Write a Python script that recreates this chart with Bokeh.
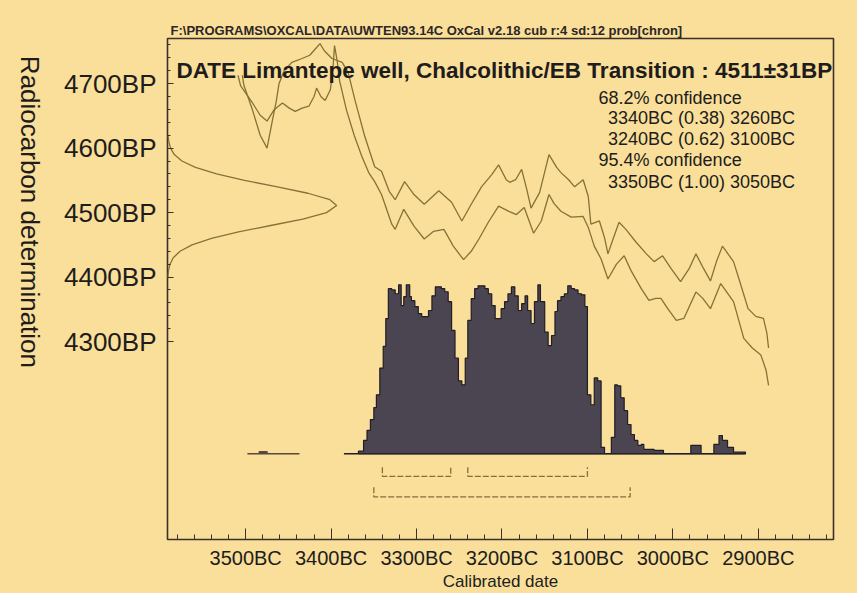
import math
from bokeh.plotting import figure
from bokeh.models import Range1d, FixedTicker, Label
from bokeh.layouts import row
from bokeh.core.properties import value
from bokeh.embed import file_html
from bokeh.resources import INLINE

# ---------------- data (calendar years BC, radiocarbon years BP) ----------------
x_tick_bc = [3500, 3400, 3300, 3200, 3100, 3000, 2900]
x_tick_labels = ["3500BC", "3400BC", "3300BC", "3200BC", "3100BC", "3000BC", "2900BC"]
y_tick_bp = [4300, 4400, 4500, 4600, 4700]
y_tick_labels = ["4300BP", "4400BP", "4500BP", "4600BP", "4700BP"]

# calibration curve, first envelope line
curve_a_bc = [3509, 3506, 3492, 3483, 3475, 3467, 3457, 3449, 3442, 3434, 3426, 3420, 3417, 3412,
              3407, 3401, 3398, 3396, 3393, 3390, 3382, 3373, 3364, 3356, 3349, 3341, 3329, 3325,
              3315, 3303, 3291, 3280, 3268, 3257, 3245, 3236, 3227, 3216, 3204, 3192, 3183, 3174,
              3163, 3154, 3145, 3139, 3131, 3119, 3105, 3099, 3092, 3084, 3076, 3066, 3057, 3049,
              3037, 3028, 3020, 3014, 3006, 2996, 2987, 2973, 2965, 2956, 2944, 2929, 2917, 2907,
              2897, 2891, 2888]
curve_a_bp = [4713, 4697, 4670, 4651, 4642, 4659, 4670, 4662, 4657, 4662, 4665, 4680, 4693, 4680,
              4674, 4690, 4720, 4759, 4736, 4704, 4659, 4620, 4587, 4562, 4548, 4528, 4482, 4474,
              4505, 4479, 4459, 4471, 4474, 4448, 4427, 4440, 4459, 4485, 4510, 4502, 4497, 4508,
              4468, 4487, 4528, 4514, 4502, 4493, 4494, 4477, 4448, 4428, 4397, 4420, 4433, 4410,
              4382, 4364, 4367, 4367, 4351, 4333, 4336, 4377, 4367, 4351, 4390, 4362, 4305, 4290,
              4279, 4256, 4232]

# calibration curve, second envelope line
curve_b_bc = [3504, 3502, 3492, 3483, 3475, 3469, 3464, 3461, 3455, 3446, 3434, 3425, 3417, 3413,
              3408, 3399, 3387, 3380, 3372, 3361, 3349, 3341, 3332, 3325, 3314, 3303, 3291, 3274,
              3259, 3247, 3236, 3224, 3212, 3204, 3195, 3191, 3184, 3177, 3171, 3166, 3156, 3145,
              3136, 3131, 3122, 3115, 3105, 3099, 3096, 3086, 3080, 3076, 3070, 3063, 3055, 3043,
              3031, 3022, 3012, 3002, 2991, 2981, 2973, 2964, 2956, 2949, 2942, 2929, 2921, 2912,
              2903, 2894, 2890, 2888]
curve_b_bp = [4713, 4697, 4659, 4620, 4600, 4641, 4674, 4700, 4720, 4733, 4739, 4744, 4756, 4762,
              4751, 4739, 4733, 4717, 4674, 4620, 4571, 4564, 4533, 4520, 4548, 4528, 4513, 4534,
              4516, 4487, 4513, 4540, 4559, 4574, 4551, 4547, 4551, 4567, 4536, 4507, 4531, 4590,
              4570, 4562, 4551, 4540, 4551, 4525, 4482, 4487, 4461, 4436, 4459, 4485, 4474, 4454,
              4436, 4424, 4433, 4413, 4393, 4413, 4436, 4413, 4394, 4424, 4448, 4424, 4390, 4351,
              4339, 4336, 4313, 4290]

meas_bp = [4400, 4410, 4420, 4430, 4440, 4450, 4460, 4470, 4480, 4490, 4500, 4511, 4520,
           4530, 4540, 4550, 4560, 4570, 4580, 4590, 4600, 4610, 4620]
meas_rel = [0.002, 0.006, 0.015, 0.034, 0.074, 0.145, 0.26, 0.42, 0.61, 0.80, 0.94, 1.0, 0.96,
            0.83, 0.65, 0.455, 0.29, 0.165, 0.085, 0.04, 0.018, 0.008, 0.003]

# calibrated probability distribution (bin start, BC) and relative probability
hist_start_bc = [3368, 3362, 3358, 3354, 3350, 3347, 3343, 3339, 3336, 3333, 3329, 3325, 3321,
                 3318, 3315, 3312, 3308, 3306, 3302, 3298, 3294, 3286, 3282, 3278, 3271, 3267,
                 3263, 3259, 3255, 3251, 3247, 3243, 3240, 3236, 3232, 3228, 3220, 3216, 3212,
                 3208, 3201, 3197, 3193, 3189, 3185, 3181, 3177, 3173, 3170, 3166, 3162, 3158,
                 3155, 3150, 3146, 3142, 3138, 3135, 3131, 3127, 3123, 3119, 3115, 3111, 3107,
                 3103, 3100, 3096, 3092, 3088, 3084, 3080, 3072, 3068, 3065, 3061, 3057, 3053,
                 3049, 3045, 3041, 3037, 3034, 3022, 3011, 2979, 2967, 2952, 2946, 2942, 2936,
                 2929]
hist_prob = [0.015, 0.079, 0.138, 0.202, 0.273, 0.349, 0.507, 0.636, 0.80, 0.977, 0.97, 0.947,
             1.0, 0.877, 0.93, 1.0, 0.93, 0.906, 0.871, 0.83, 0.812, 0.848, 0.935, 0.988, 0.977,
             0.959, 0.90, 0.73, 0.566, 0.431, 0.408, 0.566, 0.789, 0.918, 0.977, 0.994, 0.977,
             0.947, 0.877, 0.80, 0.859, 0.90, 0.947, 0.988, 0.935, 0.848, 0.889, 0.935, 0.848,
             0.771, 0.90, 1.0, 0.90, 0.72, 0.64, 0.70, 0.842, 0.906, 0.93, 0.947, 0.994, 0.977,
             0.97, 0.947, 0.941, 0.871, 0.349, 0.29, 0.449, 0.431, 0.038, 0.0, 0.097, 0.408,
             0.402, 0.331, 0.255, 0.173, 0.114, 0.079, 0.05, 0.056, 0.026, 0.02, 0.0, 0.05, 0.0,
             0.056, 0.108, 0.079, 0.038, 0.009]
hist_end_bc = 2915
hist_base_from_bc = 3385

# small isolated probability further back
minor_start_bc = [3498, 3484, 3475]
minor_prob = [0.0, 0.012, 0.0]
minor_end_bc = 3437

# confidence ranges (from, to BC)
range68_from = [3340, 3240]
range68_to = [3260, 3100]
range95_from = [3350]
range95_to = [3050]

title_text = "DATE Limantepe well, Chalcolithic/EB Transition : 4511\u00b131BP"
legend_lines = ["68.2% confidence", "3340BC (0.38) 3260BC", "3240BC (0.62) 3100BC",
                "95.4% confidence", "3350BC (1.00) 3050BC"]
header_text = r"F:\PROGRAMS\OXCAL\DATA\UWTEN93.14C  OxCal v2.18 cub r:4 sd:12 prob[chron]"
x_axis_title = "Calibrated date"
y_axis_title = "Radiocarbon determination"

# ---------------- styling ----------------
PAPER = "#f9df99"
INK = "#211c1c"
FRAME = "#3b302c"
CURVE = "#857238"
HIST_FILL = "#4a4550"
HIST_LINE = "#221d26"
BRACKET = "#8a6d3b"
FONT = "Liberation Sans"

TOTAL_W, TOTAL_H = 857, 593
LAB_W = 60

X0, X1 = -3591.5, -2812.0
Y0, Y1 = 3993.0, 4770.0

# narrow strip holding the vertical axis title (reads top to bottom);
# its frame is aligned with the main frame, so it shares the radiocarbon range
lab = figure(width=LAB_W, height=TOTAL_H, output_backend="svg", toolbar_location=None,
             x_range=Range1d(0, LAB_W), y_range=Range1d(Y0, Y1),
             x_axis_location=None, y_axis_location=None,
             min_border_left=0, min_border_right=0, min_border_top=38, min_border_bottom=50,
             styles={"background-color": PAPER})
lab.background_fill_color = None
lab.border_fill_color = None
lab.outline_line_color = None
lab.grid.grid_line_color = None
lab.text(x=[29], y=[4501], text=[y_axis_title], angle=-math.pi / 2,
         text_align="center", text_baseline="middle", text_font=value(FONT),
         text_font_size=value("26px"), text_color=INK)

p = figure(width=TOTAL_W - LAB_W, height=TOTAL_H, output_backend="svg", toolbar_location=None,
           x_range=Range1d(X0, X1), y_range=Range1d(Y0, Y1),
           min_border_left=165 - LAB_W, min_border_right=24, min_border_top=38,
           min_border_bottom=50, title=header_text)
p.background_fill_color = PAPER
p.border_fill_color = PAPER
p.outline_line_color = FRAME
p.outline_line_width = 1.6
p.grid.grid_line_color = None

p.title.text_font = FONT
p.title.text_font_size = "13px"
p.title.text_font_style = "bold"
p.title.text_color = "#2e2626"
p.title.align = "left"
p.title.offset = 3
p.title.standoff = 1

# x axis
x_ticks = [-v for v in x_tick_bc]
x_minor = [-v for v in range(3580, 2810, -20)]
p.xaxis.ticker = FixedTicker(ticks=x_ticks, minor_ticks=x_minor)
p.xaxis.major_label_overrides = {t: s for t, s in zip(x_ticks, x_tick_labels)}
p.xaxis.axis_label = x_axis_title
y_minor = list(range(4300, 4770, 20))
p.yaxis.ticker = FixedTicker(ticks=y_tick_bp, minor_ticks=y_minor)
p.yaxis.major_label_overrides = {t: s for t, s in zip(y_tick_bp, y_tick_labels)}

for ax in (p.xaxis[0], p.yaxis[0]):
    ax.axis_line_color = None
    ax.major_tick_line_color = FRAME
    ax.minor_tick_line_color = FRAME
    ax.major_tick_out = 0
    ax.minor_tick_out = 0
    ax.major_label_text_font = FONT
    ax.major_label_text_color = INK
    ax.axis_label_text_font = FONT
    ax.axis_label_text_color = INK
    ax.axis_label_text_font_style = "normal"

p.xaxis.major_tick_in = 11
p.xaxis.minor_tick_in = 5
p.xaxis.major_label_text_font_size = "20px"
p.xaxis.major_label_standoff = 7
p.xaxis.axis_label_text_font_size = "17px"
p.xaxis.axis_label_standoff = 0

p.yaxis.major_tick_in = 6
p.yaxis.minor_tick_in = 3
p.yaxis.major_label_text_font_size = "26px"
p.yaxis.major_label_standoff = 11

# calibration curve envelope
p.line([-v for v in curve_a_bc], curve_a_bp, line_color=CURVE, line_width=1.3)
p.line([-v for v in curve_b_bc], curve_b_bp, line_color=CURVE, line_width=1.3)

# measurement distribution on the radiocarbon axis
MEAS_WIDTH = 198.0
p.line([X0 + MEAS_WIDTH * r for r in meas_rel], meas_bp, line_color=CURVE, line_width=1.3)

# calibrated distribution histogram
BASE = 4126.0
HSCALE = 262.0


def step_outline(starts, probs, end):
    xs, ys = [-starts[0]], [BASE]
    for i, h in enumerate(probs):
        a = -starts[i]
        b = -(starts[i + 1] if i + 1 < len(starts) else end)
        y = BASE + h * HSCALE
        xs += [a, b]
        ys += [y, y]
    xs.append(-end)
    ys.append(BASE)
    return xs, ys


hx, hy = step_outline(hist_start_bc, hist_prob, hist_end_bc)
p.line([-hist_base_from_bc, -hist_end_bc], [BASE, BASE], line_color=HIST_LINE, line_width=1.6)
p.patch(hx, hy, fill_color=HIST_FILL, line_color=HIST_LINE, line_width=1.2)
mx, my = step_outline(minor_start_bc, minor_prob, minor_end_bc)
p.patch(mx, my, fill_color=HIST_FILL, line_color="#5a4a3a", line_width=1.6)


# range brackets
def brackets(froms, tos, ybot, ytop):
    xs, ys = [], []
    for a, b in zip(froms, tos):
        xs.append([-a, -a, -b, -b])
        ys.append([ytop, ybot, ybot, ytop])
    return xs, ys


bx, by = brackets(range68_from, range68_to, 4091, 4105)
p.multi_line(bx, by, line_color=BRACKET, line_width=1.3, line_dash="6 2")
bx, by = brackets(range95_from, range95_to, 4059, 4074)
p.multi_line(bx, by, line_color=BRACKET, line_width=1.3, line_dash="6 2")

# texts inside the frame
p.add_layout(Label(x=-3581, y=4721, text=title_text, text_font=FONT, text_font_size="22.5px",
                   text_font_style="bold", text_color=INK, text_baseline="middle"))
leg_x = [-3087, -3076, -3076, -3087, -3076]
leg_y = [4677, 4646, 4614, 4582, 4548]
for tx, ty, t in zip(leg_x, leg_y, legend_lines):
    p.add_layout(Label(x=tx, y=ty, text=t, text_font=FONT, text_font_size="18px",
                       text_color=INK, text_baseline="middle"))

layout = row(lab, p, styles={"background-color": PAPER})
open("out.html", "w").write(file_html(layout, INLINE))
